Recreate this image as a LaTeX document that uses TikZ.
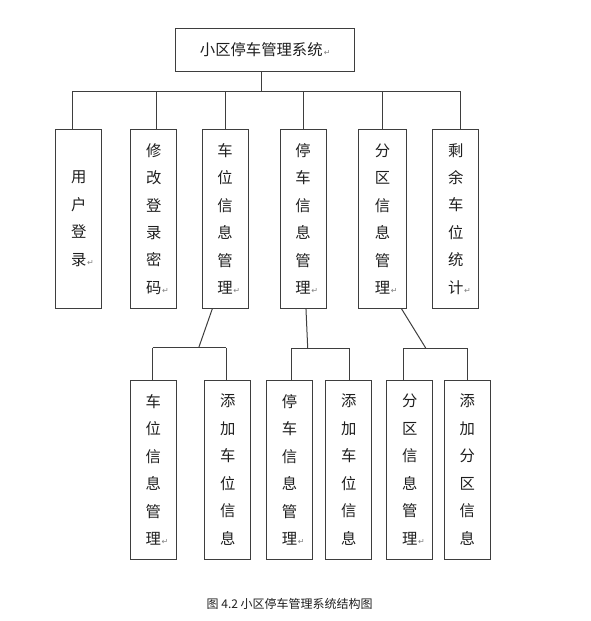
\documentclass[tikz,border=0pt]{standalone}
\usepackage{fontspec}
\newfontfamily\cjk{Noto Sans CJK SC}
\newfontfamily\retfont{DejaVu Sans}
\usetikzlibrary{calc}

\definecolor{linegray}{RGB}{62,62,62}
\definecolor{textblack}{RGB}{30,30,30}
\newcommand{\retmark}{{\retfont\fontsize{6}{6}\selectfont\textcolor{gray}{↵}}}
\newcommand{\pmark}{\rlap{\hspace{0.5pt}\retmark}}

\tikzset{every picture/.style={line width=0.75pt}}
\tikzset{
  topbox/.style={draw, minimum width=134pt, minimum height=32pt, inner sep=0pt,
    text=textblack, font=\cjk\fontsize{11.5}{14}\selectfont},
  modbox/.style={draw, minimum width=34.5pt, minimum height=134.1pt, inner sep=0pt,
    align=center, text=textblack, font=\cjk\fontsize{11.5}{20.6}\selectfont},
}

\begin{document}
\begin{tikzpicture}[x=0.75pt,y=0.75pt,yscale=-1,xscale=1,color=linegray]
\useasboundingbox (0,0) rectangle (590,621);

%Top box
\node [topbox] (sys) at (265.3,49.7) {小区停车管理系统\hspace{1pt}\retmark};

%First level
\node [modbox] (b1) at (78.7,218.9) {用\\户\\登\\录\pmark};
\node [modbox] (b2) at (153.85,218.9) {修\\改\\登\\录\\密\\码\pmark};
\node [modbox] (b3) at (225,218.9) {车\\位\\信\\息\\管\\理\pmark};
\node [modbox] (b4) at (303.15,218.9) {停\\车\\信\\息\\管\\理\pmark};
\node [modbox, minimum width=36.5pt] (b5) at (382.65,218.9) {分\\区\\信\\息\\管\\理\pmark};
\node [modbox] (b6) at (455.85,218.9) {剩\\余\\车\\位\\统\\计\pmark};

%Second level
\node [modbox] (s1) at (153.3,469.7) {车\\位\\信\\息\\管\\理\pmark};
\node [modbox] (s2) at (227.85,469.7) {添\\加\\车\\位\\信\\息};
\node [modbox] (s3) at (289.5,469.7) {停\\车\\信\\息\\管\\理\pmark};
\node [modbox] (s4) at (348.85,469.7) {添\\加\\车\\位\\信\\息};
\node [modbox] (s5) at (409.85,469.7) {分\\区\\信\\息\\管\\理\pmark};
\node [modbox] (s6) at (467.3,469.7) {添\\加\\分\\区\\信\\息};

%Bus under the top box
\coordinate (t0) at (261,91);
\coordinate (j1) at (72.3,91);
\coordinate (j2) at (156,91);
\coordinate (j3) at (225.3,91);
\coordinate (j4) at (303.3,91);
\coordinate (j5) at (382.7,91);
\coordinate (j6) at (460,91);
\draw (t0 |- sys.south) -- (t0);
\draw (j1) -- (j6);
\foreach \j/\b in {j1/b1,j2/b2,j3/b3,j4/b4,j5/b5,j6/b6}
  \draw (\j) -- (\j |- \b.north);

%Buses of the second level
\coordinate (m1) at (198.7,347.7);
\coordinate (k1) at (152.7,347.7);
\coordinate (k2) at (226,347.7);
\coordinate (m2) at (307.7,348);
\coordinate (k3) at (291,348);
\coordinate (k4) at (349.3,348);
\coordinate (m3) at (425.7,348);
\coordinate (k5) at (403,348);
\coordinate (k6) at (467.3,348);
\draw ($(b3.south west)!0.23!(b3.south east)$) -- (m1);
\draw ($(b4.south west)!0.56!(b4.south east)$) -- (m2);
\draw ($(b5.south west)!0.88!(b5.south east)$) -- (m3);
\draw (k1) -- (k2);
\draw (k3) -- (k4);
\draw (k5) -- (k6);
\foreach \k/\s in {k1/s1,k2/s2,k3/s3,k4/s4,k5/s5,k6/s6}
  \draw (\k) -- (\k |- \s.north);

%Caption
\node [text=textblack, font=\cjk\fontsize{9}{11}\selectfont] (cap) at (289.7,604.3) {图 4.2 小区停车管理系统结构图};

\end{tikzpicture}
\end{document}
